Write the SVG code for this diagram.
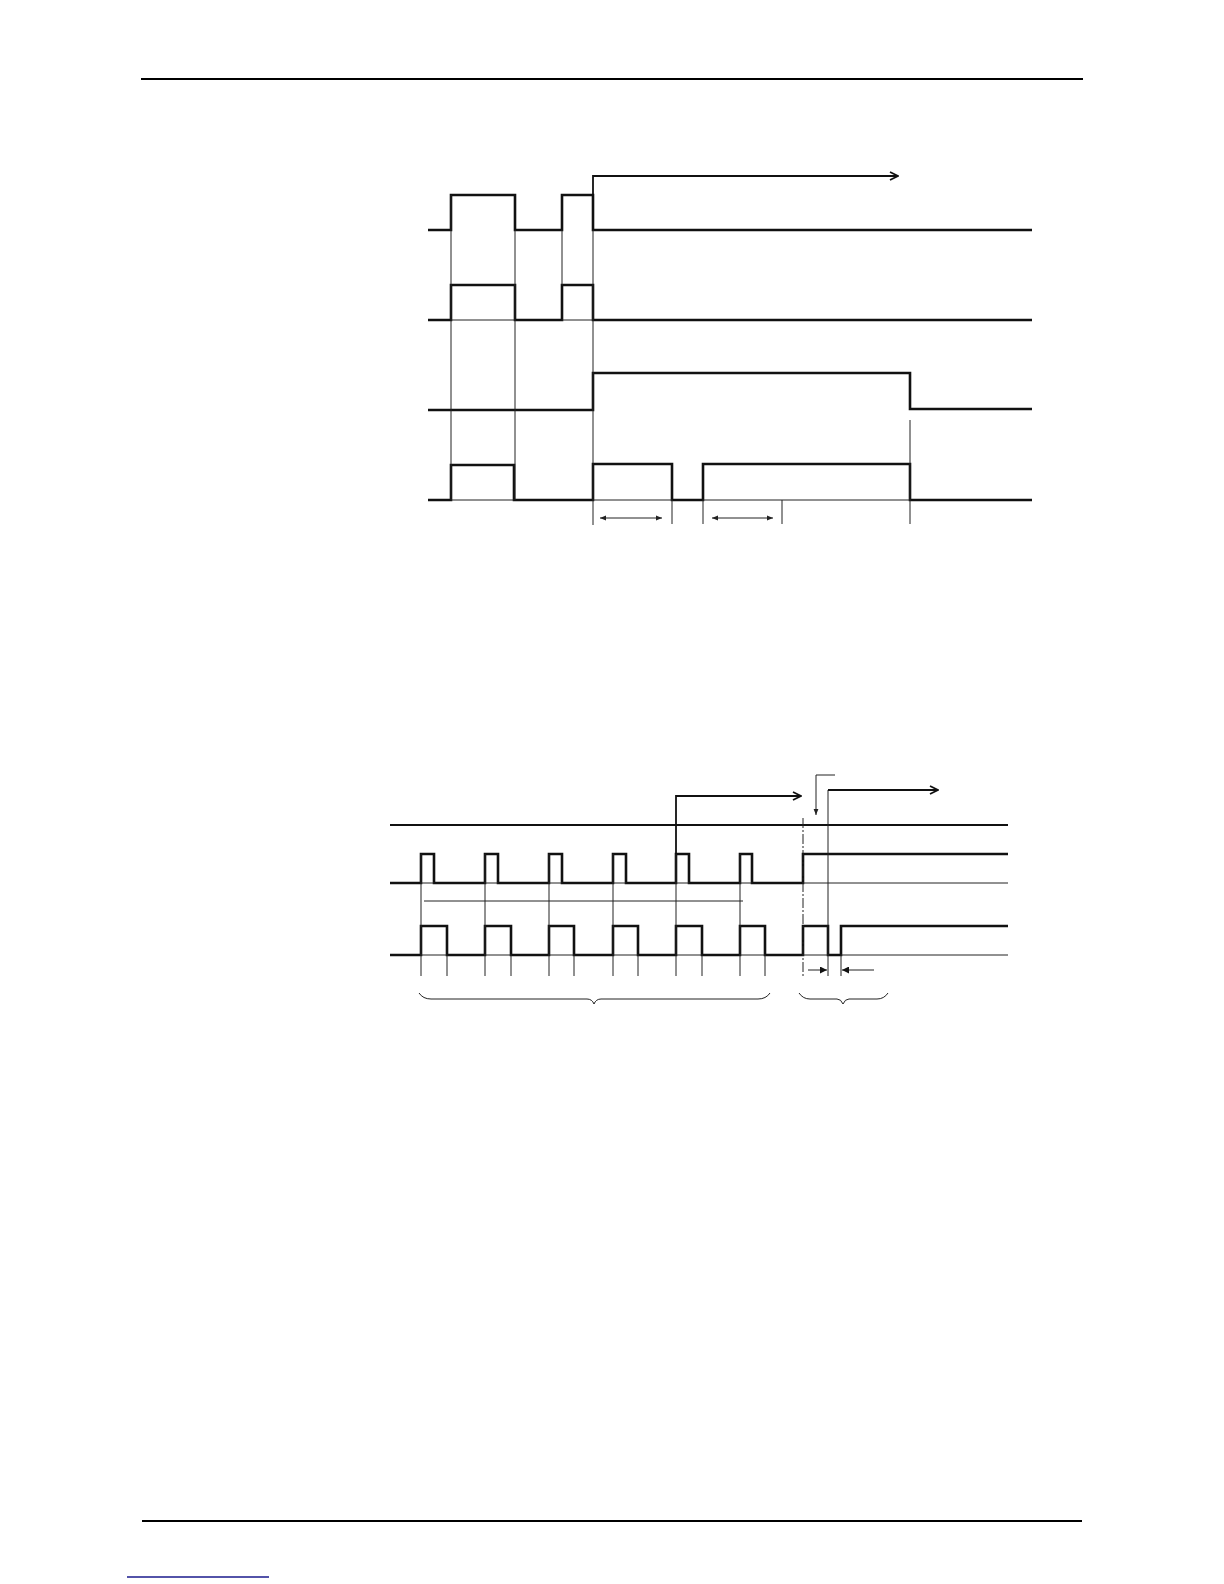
<svg xmlns="http://www.w3.org/2000/svg" width="1224" height="1584" viewBox="0 0 1224 1584">
<defs>
<style>
.sig{fill:none;stroke:#111;stroke-width:2.6;stroke-linejoin:miter}
.thin{fill:none;stroke:#222;stroke-width:1}
.med{fill:none;stroke:#111;stroke-width:1.8}
.dd{fill:none;stroke:#222;stroke-width:1;stroke-dasharray:10 2 2 2}
.rule{stroke:#000;stroke-width:2}
</style>
<marker id="open" viewBox="0 0 10 10" refX="9" refY="5" markerWidth="10" markerHeight="10" markerUnits="userSpaceOnUse" orient="auto">
<path d="M1,1 L9,5 L1,9" fill="none" stroke="#111" stroke-width="1.8"/>
</marker>
<marker id="tri" viewBox="0 0 10 10" refX="10" refY="5" markerWidth="9" markerHeight="7" markerUnits="userSpaceOnUse" orient="auto">
<path d="M0,0 L10,5 L0,10 Z" fill="#111"/>
</marker>
<marker id="sm" viewBox="0 0 10 10" refX="10" refY="5" markerWidth="7" markerHeight="6" markerUnits="userSpaceOnUse" orient="auto-start-reverse">
<path d="M0,1 L10,5 L0,9 Z" fill="#222"/>
</marker>
</defs>
<rect width="1224" height="1584" fill="#fff"/>
<line class="rule" x1="141" y1="79" x2="1083" y2="79"/>
<line class="rule" x1="142" y1="1521" x2="1082" y2="1521"/>
<line x1="127" y1="1577" x2="269" y2="1577" stroke="#1a1a8c" stroke-width="1.5"/>

<g id="diagram1">
<g id="sig1"><path class="sig" d="M428,230 H451 V195 H515 V230 H562 V195 H593 V230 H1032"/></g>
<g id="sig2"><path class="sig" d="M428,320 H451 V285 H515 V320 H562 V285 H593 V320 H1032"/><path class="thin" d="M451,320 H515 M562,320 H593"/></g>
<g id="sig3"><path class="sig" d="M428,410 H593 V373 H910 V409 H1032"/></g>
<g id="sig4"><path class="sig" d="M428,500 H451 V465 H514 V500 H593 V464 H672 V500 H703 V464 H910 V500 H1032"/><path class="thin" d="M451,500 H514 M593,500 H672 M703,500 H910"/></g>
<g id="conn1">
<path class="thin" d="M451,195 V500 M515,230 V500 M562,230 V285 M593,230 V525 M672,500 V524 M703,500 V524 M782,500 V524 M910,420 V524"/>
<path class="med" d="M593,230 V176 H898" marker-end="url(#open)"/>
<line class="thin" x1="600" y1="518" x2="662" y2="518" marker-start="url(#sm)" marker-end="url(#sm)"/>
<line class="thin" x1="712" y1="518" x2="773" y2="518" marker-start="url(#sm)" marker-end="url(#sm)"/>
</g>
</g>

<g id="diagram2">
<g id="top"><path class="med" d="M390,825 H1008"/></g>
<g id="sigB"><path class="sig" d="M390,883 H421 V854 H434 V883 H485 V854 H498 V883 H549 V854 H562 V883 H613 V854 H626 V883 H676 V854 H689 V883 H740 V854 H752 V883 H803 V854 H1008"/>
<path class="thin" d="M421,883 H434 M485,883 H498 M549,883 H562 M613,883 H626 M676,883 H689 M740,883 H752 M803,883 H1008 M424,901 H743"/></g>
<g id="sigC"><path class="sig" d="M390,955 H421 V926 H447 V955 H485 V926 H511 V955 H549 V926 H574 V955 H613 V926 H638 V955 H676 V926 H702 V955 H740 V926 H765 V955 H803 V926 H828 V955 H841 V926 H1008"/>
<path class="thin" d="M421,955 H447 M485,955 H511 M549,955 H574 M613,955 H638 M676,955 H702 M740,955 H765 M803,955 H828 M841,955 H1008"/></g>
<g id="conn2">
<path class="thin" d="M421,854 V976 M485,854 V976 M549,854 V976 M613,854 V976 M676,854 V976 M740,854 V976 M447,955 V976 M511,955 V976 M574,955 V976 M638,955 V976 M702,955 V976 M765,955 V976 M828,790 V976 M841,955 V976"/>
<path class="dd" d="M803,818 V976"/>
<path class="med" d="M676,854 V796 H801" marker-end="url(#open)"/>
<path class="med" d="M828,790 H938" marker-end="url(#open)"/>
<path class="thin" d="M835,775 H816 V815" marker-end="url(#sm)"/>
<line class="thin" x1="808" y1="970" x2="827" y2="970" marker-end="url(#tri)"/>
<line class="thin" x1="874" y1="970" x2="842" y2="970" marker-end="url(#tri)"/>
<path class="thin" d="M419,993 Q423,999 431,999 H587 Q592,999 594,1004 Q596,999 601,999 H758 Q766,999 770,993"/>
<path class="thin" d="M799,993 Q803,999 810,999 H837 Q841,999 843,1004 Q845,999 849,999 H877 Q884,999 888,993"/>
</g>
</g>
</svg>
